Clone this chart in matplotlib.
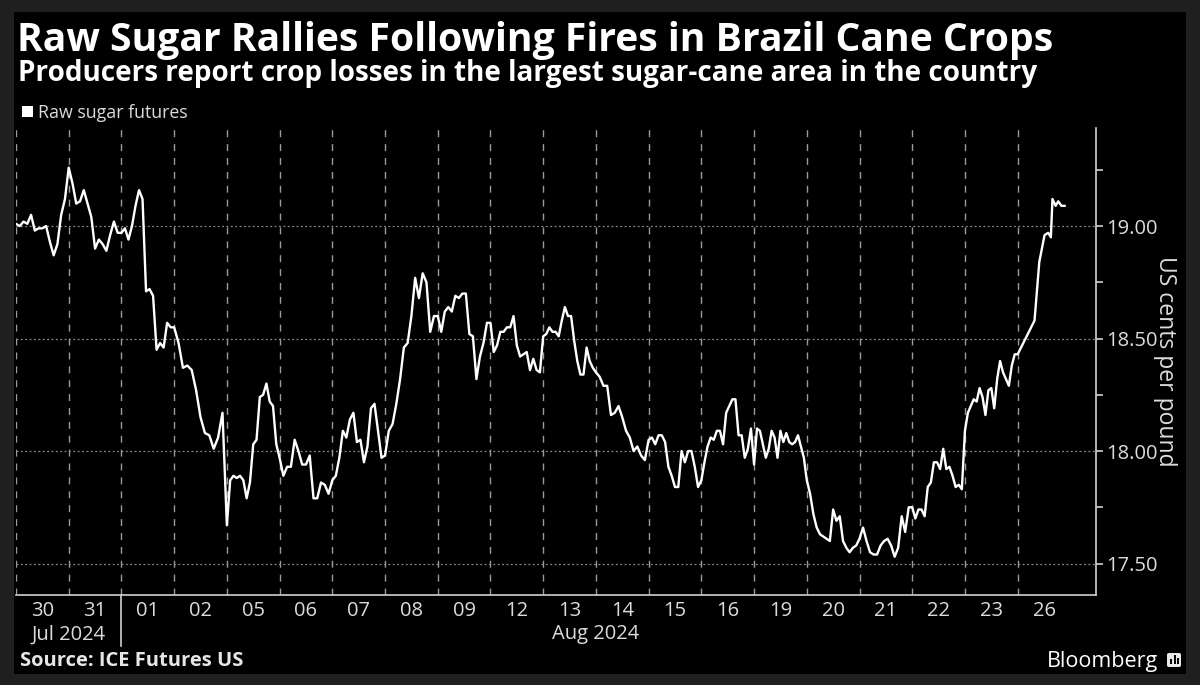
import numpy as np
import matplotlib
matplotlib.use("Agg")
import matplotlib.pyplot as plt
from matplotlib.patches import Rectangle, FancyBboxPatch
from matplotlib.lines import Line2D

# ---------------- data ----------------
day_labels = ["30", "31", "01", "02", "05", "06", "07", "08", "09", "12",
              "13", "14", "15", "16", "19", "20", "21", "22", "23", "26"]
month_labels = ["Jul 2024", "Aug 2024"]

jul30 = [19.01, 19.00, 19.02, 19.01, 19.05, 18.98, 18.99, 18.99, 19.00, 18.93, 18.87, 18.92, 19.05, 19.12]
jul31 = [19.26, 19.19, 19.10, 19.11, 19.16, 19.10, 19.04, 18.90, 18.94, 18.92, 18.89, 18.96, 19.02, 18.97]
aug01 = [18.97, 18.99, 18.94, 19.00, 19.09, 19.16, 19.12, 18.71, 18.72, 18.69, 18.45, 18.48, 18.46, 18.57, 18.55]
aug02 = [18.55, 18.48, 18.37, 18.38, 18.36, 18.27, 18.15, 18.08, 18.07, 18.01, 18.06, 18.17]
aug05 = [17.67, 17.87, 17.89, 17.88, 17.89, 17.87, 17.79, 17.86, 18.03, 18.05, 18.24, 18.25, 18.30, 18.22, 18.20, 18.03]
aug06 = [17.97, 17.89, 17.93, 17.93, 18.05, 18.00, 17.94, 17.94, 17.98, 17.79, 17.79, 17.86, 17.85, 17.81]
aug07 = [17.87, 17.89, 17.97, 18.09, 18.06, 18.14, 18.17, 18.04, 18.05, 17.95, 18.02, 18.19, 18.21, 18.09, 17.97]
aug08 = [17.98, 18.09, 18.12, 18.21, 18.32, 18.46, 18.48, 18.60, 18.77, 18.68, 18.79, 18.75, 18.53, 18.60]
aug09 = [18.60, 18.53, 18.62, 18.64, 18.62, 18.69, 18.68, 18.70, 18.70, 18.52, 18.51, 18.32, 18.42, 18.48, 18.57]
aug12 = [18.57, 18.44, 18.47, 18.53, 18.53, 18.55, 18.55, 18.60, 18.47, 18.42, 18.43, 18.44, 18.36, 18.41, 18.36, 18.35]
aug13 = [18.51, 18.52, 18.55, 18.53, 18.53, 18.51, 18.58, 18.64, 18.60, 18.60, 18.49, 18.40, 18.34, 18.34, 18.46, 18.40, 18.37]
aug14 = [18.35, 18.33, 18.29, 18.29, 18.16, 18.17, 18.20, 18.15, 18.09, 18.06, 18.00, 18.02, 17.98, 17.96]
aug15 = [18.05, 18.06, 18.03, 18.07, 18.07, 18.04, 17.93, 17.89, 17.84, 17.84, 18.00, 17.95, 18.00, 18.00, 17.93, 17.84]
aug16 = [17.87, 17.95, 18.02, 18.06, 18.05, 18.09, 18.09, 18.03, 18.17, 18.20, 18.23, 18.23, 18.07, 18.07, 17.97, 18.01, 18.10]
aug19 = [17.94, 18.10, 18.09, 18.03, 17.97, 18.01, 18.09, 18.06, 17.97, 18.09, 18.04, 18.08, 18.04, 18.03, 18.04, 18.07, 18.02, 17.97]
aug20 = [17.87, 17.81, 17.72, 17.66, 17.63, 17.62, 17.61, 17.60, 17.74, 17.69, 17.71, 17.60, 17.57, 17.55, 17.57, 17.58]
aug21 = [17.61, 17.66, 17.60, 17.55, 17.54, 17.54, 17.58, 17.60, 17.61, 17.58, 17.53, 17.57, 17.71, 17.64, 17.75]
aug22 = [17.75, 17.70, 17.74, 17.74, 17.71, 17.84, 17.86, 17.95, 17.95, 17.92, 18.01, 17.92, 17.93, 17.89, 17.84, 17.85, 17.83]
aug23 = [18.09, 18.17, 18.20, 18.23, 18.22, 18.28, 18.24, 18.16, 18.27, 18.28, 18.19, 18.32, 18.40, 18.35, 18.32, 18.29, 18.38, 18.43]
aug26 = [18.43, 18.58, 18.84, 18.96, 18.97, 18.95, 19.12, 19.09, 19.11, 19.09, 19.09]
aug26_time = [0.0, 0.32, 0.41, 0.51, 0.58, 0.63, 0.66, 0.72, 0.77, 0.83, 0.89]  # fraction of session

full_days = [jul30, jul31, aug01, aug02, aug05, aug06, aug07, aug08, aug09, aug12,
             aug13, aug14, aug15, aug16, aug19, aug20, aug21, aug22, aug23]

y_ticks = [17.50, 18.00, 18.50, 19.00]
y_minor = [17.75, 18.25, 18.75, 19.25]

# ---------------- build series ----------------
xs, ys = [], []
for d, vals in enumerate(full_days):
    n = len(vals)
    xs.extend(np.linspace(d, d + 1, n, endpoint=False))
    ys.extend(vals)
xs.extend(len(full_days) + np.array(aug26_time))
ys.extend(aug26)

# ---------------- figure ----------------
W, H = 1200, 685
fig = plt.figure(figsize=(W / 100, H / 100), dpi=100, facecolor="#1f1f1f")

def fx(x):
    return x / W

def fy(y):
    return 1 - y / H

# black panel
fig.patches.append(Rectangle((fx(14), fy(674)), fx(1186) - fx(14), fy(12) - fy(674),
                             transform=fig.transFigure, facecolor="black", edgecolor="none", zorder=-10))

ax_l, ax_r, ax_t, ax_b = 16, 1096, 128, 595
ax = fig.add_axes([fx(ax_l), fy(ax_b), fx(ax_r) - fx(ax_l), fy(ax_t) - fy(ax_b)])
ax.set_facecolor("black")
ax.set_zorder(2)

ax.plot(xs, ys, color="white", lw=1.7, solid_joinstyle="round", zorder=3)

n_days = len(day_labels)
ax.set_xlim(0, n_days + 0.486)
ax.set_ylim(17.36, 19.436)

# grids
for d in range(n_days):
    ax.axvline(d, color="#9a9a9a", lw=1.0, ls=(0, (5, 5)), zorder=1)
for v in y_ticks:
    ax.axhline(v, color="#8a8a8a", lw=0.9, ls=(0, (1.5, 2)), zorder=1)

# spines
for s in ["top", "left"]:
    ax.spines[s].set_visible(False)
for s in ["bottom", "right"]:
    ax.spines[s].set_color("#d0d0d0")
    ax.spines[s].set_linewidth(1.2)

# y axis on right
ax.yaxis.tick_right()
ax.yaxis.set_label_position("right")
ax.set_yticks(y_ticks)
ax.set_yticklabels([f"{v:.2f}" for v in y_ticks])
ax.set_yticks(y_minor, minor=True)
ax.tick_params(axis="y", which="major", colors="#d0d0d0", length=5, width=1.2,
               labelsize=14.5, pad=2, labelcolor="#dcdcdc")
ax.tick_params(axis="y", which="minor", colors="#d0d0d0", length=5, width=1.2)
for t in ax.get_yticklabels():
    t.set_fontfamily("Open Sans")
ax.set_ylabel("US cents per pound", rotation=270, color="#dcdcdc", fontsize=16.5,
              labelpad=14, fontfamily="Open Sans")

# x axis: day labels centered in each day
ax.set_xticks(np.arange(n_days) + 0.5)
ax.set_xticklabels(day_labels)
ax.tick_params(axis="x", length=0, pad=4, labelsize=14.5, labelcolor="#dcdcdc")
for t in ax.get_xticklabels():
    t.set_fontfamily("Open Sans")

# month labels and separator
ax.text(1.0, -0.063, month_labels[0], transform=ax.get_xaxis_transform(), ha="center", va="top",
        color="#dcdcdc", fontsize=14.5, fontfamily="Open Sans")
ax.text((2 + n_days) / 2, -0.063, month_labels[1], transform=ax.get_xaxis_transform(), ha="center",
        va="top", color="#dcdcdc", fontsize=14.5, fontfamily="Open Sans")
ax.add_line(Line2D([2, 2], [0, -0.11], transform=ax.get_xaxis_transform(), color="#d0d0d0",
                   lw=1.2, clip_on=False))

# titles
fig.text(fx(17), fy(51), "Raw Sugar Rallies Following Fires in Brazil Cane Crops", color="white",
         fontsize=28.2, fontweight="bold", fontfamily="Open Sans", ha="left", va="baseline")
fig.text(fx(18), fy(81), "Producers report crop losses in the largest sugar-cane area in the country",
         color="white", fontsize=20.1, fontweight="bold", fontfamily="Open Sans", ha="left", va="baseline")

# legend
fig.patches.append(Rectangle((fx(22), fy(117)), fx(11), 11 / H, transform=fig.transFigure,
                             facecolor="white", edgecolor="none"))
fig.text(fx(38), fy(118), "Raw sugar futures", color="#dcdcdc", fontsize=12.8,
         fontfamily="Open Sans", ha="left", va="baseline")

# footer
fig.text(fx(20), fy(666), "Source: ICE Futures US", color="#e6e6e6", fontsize=14.5,
         fontweight="bold", fontfamily="Open Sans", ha="left", va="baseline")
fig.text(fx(1158), fy(667), "Bloomberg", color="white", fontsize=15.5,
         fontfamily="Open Sans", ha="right", va="baseline")
fig.patches.append(FancyBboxPatch((fx(1167), fy(667)), fx(14), 14 / H,
                                  boxstyle="round,pad=0.0,rounding_size=0.002",
                                  transform=fig.transFigure, facecolor="#e8e8e8", edgecolor="none"))
for bx, bh in [(1170, 5), (1173.5, 9), (1177, 6)]:
    fig.patches.append(Rectangle((fx(bx), fy(664)), fx(2), bh / H, transform=fig.transFigure,
                                 facecolor="black", edgecolor="none"))

fig.savefig("out.png", dpi=100, facecolor=fig.get_facecolor())
